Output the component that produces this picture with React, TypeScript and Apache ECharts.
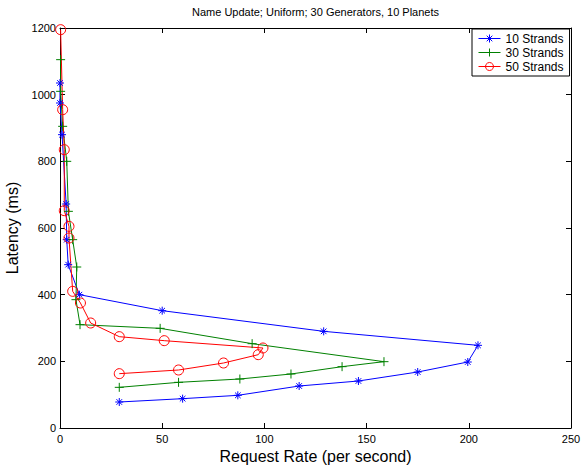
import React, { useEffect, useRef } from "react";
import * as echarts from "echarts";

const TITLE = "Name Update; Uniform; 30 Generators, 10 Planets";
const X_NAME = "Request Rate (per second)";
const Y_NAME = "Latency (ms)";
const SERIES_NAMES = ["10 Strands", "30 Strands", "50 Strands"];

const rate10 = [29, 60, 87, 117, 146, 175, 199.5, 204.5, 129, 50, 9.5, 4, 3.3, 3, 1, 0, 0];
const lat10 = [78, 88, 98, 126, 141, 168, 198, 248, 290, 352, 400, 490, 565, 672, 880, 975, 1035];

const rate30 = [29, 58, 88, 113, 138, 158.5, 94, 49, 9.8, 7.8, 8.2, 6.2, 4.1, 3.3, 1.3, 0.3, 0.3];
const lat30 = [122, 137, 147, 162, 184, 199, 253, 299, 310, 385, 483, 565, 650, 800, 905, 1010, 1105];

const rate50 = [29, 58, 80, 97, 99.3, 51, 29, 15, 10, 6.2, 4.4, 4.4, 2.1, 2.1, 1.3, 0.3];
const lat50 = [163, 174, 195, 220, 240, 262, 274, 315, 375, 410, 570, 605, 652, 835, 955, 1195];

const COLORS = ["#0000ff", "#008000", "#ff0000"];
const ASTERISK = "path://M0,-1L0,1M-1,0L1,0M-0.7,-0.7L0.7,0.7M-0.7,0.7L0.7,-0.7";
const PLUS = "path://M0,-1L0,1M-1,0L1,0";

const zip = (xs: number[], ys: number[]) => xs.map((x, i) => [x, ys[i]]);

export default function App() {
  const ref = useRef<HTMLDivElement>(null);
  useEffect(() => {
    if (!ref.current) return;
    const chart = echarts.init(ref.current, null, { renderer: "svg" });
    const font = "Liberation Sans, Arial, Helvetica, sans-serif";
    const tick = { show: true, inside: true, length: 5, lineStyle: { color: "#000" } };
    const axisLine = { show: true, onZero: false, lineStyle: { color: "#000", width: 1 } };
    const plain = (v: number) => String(v);
    chart.setOption({
      animation: false,
      backgroundColor: "#fff",
      textStyle: { fontFamily: font },
      grid: { left: 60, right: 11, top: 28, bottom: 41, containLabel: false, outerBoundsMode: "none" },
      graphic: [
        {
          type: "text",
          x: 315.5,
          y: 12,
          style: {
            text: TITLE,
            fontSize: 11,
            fontFamily: font,
            fill: "#000",
            textAlign: "center",
            textVerticalAlign: "middle",
          },
        },
      ],
      legend: {
        show: true,
        left: 472,
        top: 29,
        orient: "vertical",
        backgroundColor: "#fff",
        borderColor: "#000",
        borderWidth: 1,
        borderRadius: 0,
        padding: [3, 6, 3, 6],
        itemGap: 1,
        itemWidth: 22,
        itemHeight: 10,
        itemStyle: { borderWidth: 1 },
        lineStyle: { width: 1 },
        textStyle: { fontSize: 12, fontFamily: font, color: "#000", lineHeight: 12 },
        data: SERIES_NAMES,
      },
      xAxis: [
        {
          type: "value",
          min: 0,
          max: 250,
          interval: 50,
          position: "bottom",
          axisLine,
          axisTick: tick,
          splitLine: { show: false },
          axisLabel: { fontSize: 11, color: "#000", margin: 5, fontFamily: font, formatter: plain },
          name: X_NAME,
          nameLocation: "middle",
          nameGap: 19,
          nameTextStyle: { fontSize: 16, color: "#000", fontFamily: font },
        },
        {
          type: "value",
          min: 0,
          max: 250,
          interval: 50,
          position: "top",
          axisLine,
          axisTick: tick,
          splitLine: { show: false },
          axisLabel: { show: false },
        },
      ],
      yAxis: [
        {
          type: "value",
          min: 0,
          max: 1200,
          interval: 200,
          position: "left",
          axisLine,
          axisTick: tick,
          splitLine: { show: false },
          axisLabel: { fontSize: 11, color: "#000", margin: 4, fontFamily: font, formatter: plain },
          name: Y_NAME,
          nameLocation: "middle",
          nameGap: 31,
          nameTextStyle: { fontSize: 16, color: "#000", fontFamily: font },
        },
        {
          type: "value",
          min: 0,
          max: 1200,
          interval: 200,
          position: "right",
          axisLine,
          axisTick: tick,
          splitLine: { show: false },
          axisLabel: { show: false },
        },
      ],
      series: [
        {
          name: SERIES_NAMES[0],
          type: "line",
          data: zip(rate10, lat10),
          symbol: ASTERISK,
          symbolSize: 8,
          color: COLORS[0],
          lineStyle: { color: COLORS[0], width: 1 },
          itemStyle: { color: "none", borderColor: COLORS[0], borderWidth: 1 },
        },
        {
          name: SERIES_NAMES[1],
          type: "line",
          data: zip(rate30, lat30),
          symbol: PLUS,
          symbolSize: 9,
          color: COLORS[1],
          lineStyle: { color: COLORS[1], width: 1 },
          itemStyle: { color: "none", borderColor: COLORS[1], borderWidth: 1 },
        },
        {
          name: SERIES_NAMES[2],
          type: "line",
          data: zip(rate50, lat50),
          symbol: "circle",
          symbolSize: 10,
          color: COLORS[2],
          lineStyle: { color: COLORS[2], width: 1 },
          itemStyle: { color: "none", borderColor: COLORS[2], borderWidth: 1 },
        },
      ],
    });
    return () => chart.dispose();
  }, []);
  return (
    <div
      ref={ref}
      style={{ position: "fixed", left: 0, top: 0, width: 582, height: 469, background: "#fff" }}
    />
  );
}
